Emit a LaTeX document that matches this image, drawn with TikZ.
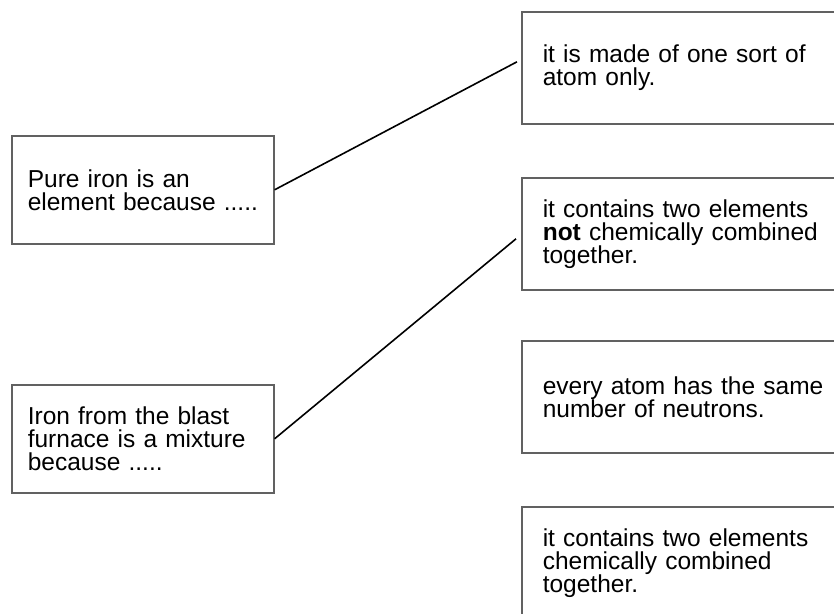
\documentclass[tikz,border=0pt]{standalone}
\usepackage{fontspec}
\setmainfont{Liberation Sans}
\usepackage{tikz}
\usetikzlibrary{calc}
\tikzset{
	stembox/.style={draw=black!62, line width=1.6pt, anchor=north west, minimum width=262pt, minimum height=108pt, inner xsep=16pt, text width=230pt, align=left, font=\fontsize{24.5}{23}\selectfont},
	answerbox/.style={stembox, minimum width=340pt, minimum height=112pt, inner xsep=21pt, text width=298pt},
	matchline/.style={line width=1.6pt, black}
}

\begin{document}
\begin{tikzpicture}[x=1pt, y=-1pt]
			%%%%% START %%%%%
			\useasboundingbox (0,0) rectangle (834,613);
			\clip (0,0) rectangle (834,613);
			
			\node[stembox] (pure) at (11,135) {Pure iron is an\\\mbox{element because .....}};
			\node[stembox] (blast) at (11,384) {Iron from the blast\\furnace is a mixture\\because .....};
			
			\node[answerbox] (onesort) at (521,11) {it is made of one sort of\\atom only.};
			\node[answerbox] (notcomb) at (521,177) {it contains two elements\\\textbf{not} chemically combined\\together.};
			\node[answerbox] (neutrons) at (521,340) {every atom has the same\\number of neutrons.};
			\node[answerbox] (comb) at (521,506) {it contains two elements\\chemically combined\\together.};
			
			\draw[matchline] (pure.east) -- ([xshift=-4pt,yshift=6pt]onesort.west);
			\draw[matchline] (blast.east) -- ([xshift=-5pt,yshift=-5pt]notcomb.west);
			
			%%%%% END %%%%%
		\end{tikzpicture}
\end{document}
